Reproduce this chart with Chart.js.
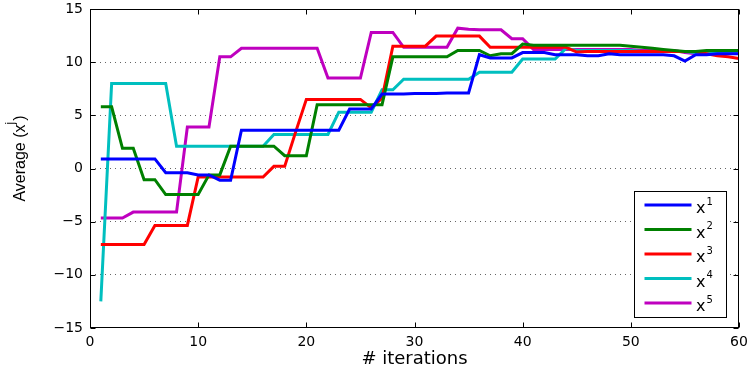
<!DOCTYPE html>
<html>
<head>
<meta charset="utf-8">
<script src="https://cdn.jsdelivr.net/npm/chart.js@4.4.1/dist/chart.umd.min.js"></script>
<style>
    body { margin: 0; background: #fff; }
    canvas { display: block; }
</style>
</head>
<body>
<canvas id="average_chart" width="749" height="373"></canvas>
<script>
// iterations 1..60
let iterations = [1, 2, 3, 4, 5, 6, 7, 8, 9, 10, 11, 12, 13, 14, 15, 16, 17, 18, 19, 20,
    21, 22, 23, 24, 25, 26, 27, 28, 29, 30, 31, 32, 33, 34, 35, 36, 37, 38, 39, 40,
    41, 42, 43, 44, 45, 46, 47, 48, 49, 50, 51, 52, 53, 54, 55, 56, 57, 58, 59, 60];

let averageX1 = [0.9, 0.9, 0.9, 0.9, 0.9, 0.9, -0.4, -0.4, -0.4, -0.6, -0.6, -1.1, -1.1, 3.6, 3.6, 3.6, 3.6, 3.6, 3.6, 3.6,
    3.6, 3.6, 3.6, 5.6, 5.6, 5.6, 7.0, 7.0, 7.0, 7.05, 7.05, 7.05, 7.1, 7.1, 7.1, 10.7, 10.4, 10.4, 10.4, 10.9,
    10.9, 10.9, 10.7, 10.7, 10.7, 10.6, 10.6, 10.8, 10.7, 10.7, 10.7, 10.7, 10.7, 10.6, 10.1, 10.7, 10.7, 10.8, 10.8, 10.8];

let averageX2 = [5.8, 5.8, 1.9, 1.9, -1.05, -1.05, -2.45, -2.45, -2.45, -2.45, -0.6, -0.6, 2.1, 2.1, 2.1, 2.1, 2.1, 1.2, 1.2, 1.2,
    6.0, 6.0, 6.0, 6.0, 6.0, 6.0, 6.0, 10.5, 10.5, 10.5, 10.5, 10.5, 10.5, 11.1, 11.1, 11.1, 10.6, 10.8, 10.8, 11.7,
    11.6, 11.6, 11.6, 11.6, 11.6, 11.6, 11.6, 11.6, 11.6, 11.5, 11.4, 11.3, 11.2, 11.1, 11.0, 11.0, 11.1, 11.1, 11.1, 11.1];

let averageX3 = [-7.15, -7.15, -7.15, -7.15, -7.15, -5.35, -5.35, -5.35, -5.35, -0.8, -0.8, -0.8, -0.8, -0.8, -0.8, -0.8, 0.2, 0.2, 3.4, 6.5,
    6.5, 6.5, 6.5, 6.5, 6.5, 5.7, 6.6, 11.5, 11.5, 11.5, 11.5, 12.45, 12.45, 12.45, 12.45, 12.45, 11.4, 11.4, 11.4, 11.4,
    11.4, 11.4, 11.4, 11.4, 10.95, 11.0, 11.0, 11.0, 11.0, 11.0, 11.0, 11.0, 11.0, 11.0, 11.0, 11.0, 10.8, 10.6, 10.5, 10.35];

let averageX4 = [-12.5, 8.0, 8.0, 8.0, 8.0, 8.0, 8.0, 2.1, 2.1, 2.1, 2.1, 2.1, 2.1, 2.1, 2.1, 2.1, 3.2, 3.2, 3.2, 3.2,
    3.2, 3.2, 5.3, 5.3, 5.3, 5.3, 7.4, 7.4, 8.4, 8.4, 8.4, 8.4, 8.4, 8.4, 8.4, 9.05, 9.05, 9.05, 9.05, 10.3,
    10.3, 10.3, 10.3, 11.3, 11.1, 11.1, 11.1, 11.1, 11.1, 11.1, 11.0, 11.0, 11.0, 11.0, 11.0, 10.9, 11.0, 11.0, 11.0, 11.0];

let averageX5 = [-4.65, -4.65, -4.65, -4.1, -4.1, -4.1, -4.1, -4.1, 3.9, 3.9, 3.9, 10.5, 10.5, 11.3, 11.3, 11.3, 11.3, 11.3, 11.3, 11.3,
    11.3, 8.5, 8.5, 8.5, 8.5, 12.8, 12.8, 12.8, 11.4, 11.4, 11.4, 11.4, 11.4, 13.2, 13.1, 13.05, 13.05, 13.05, 12.2, 12.2,
    11.2, 11.2, 11.2, 11.2, 11.2, 11.2, 11.2, 11.2, 11.2, 11.2, 11.1, 11.1, 11.1, 11.1, 10.9, 10.8, 10.9, 10.9, 10.9, 10.9];

let seriesValues = [averageX1, averageX2, averageX3, averageX4, averageX5];
let seriesSuperscripts = ["1", "2", "3", "4", "5"];
let seriesColors = ["#0000ff", "#008000", "#ff0000", "#00bfbf", "#bf00bf"];

let xTickValues = [0, 10, 20, 30, 40, 50, 60];
let yTickValues = [-15, -10, -5, 0, 5, 10, 15];

let tickFont = {family: "DejaVu Sans", size: 14, lineHeight: 1};

buildChart();

function buildChart(){
    let datasets = [];
    for(let i = 0; i < seriesValues.length; i++){
        datasets.push({
            label: "x" + seriesSuperscripts[i],
            data: toPoints(seriesValues[i]),
            borderColor: seriesColors[i],
            backgroundColor: seriesColors[i],
            borderWidth: 3,
            pointRadius: 0,
            tension: 0,
            fill: false
        });
    }

    new Chart(document.getElementById("average_chart"), {
        type: "line",
        data: {datasets: datasets},
        options: {
            responsive: false,
            animation: false,
            layout: {padding: {left: 0, top: 9, right: 10, bottom: 0}},
            plugins: {
                legend: {display: false},
                tooltip: {enabled: false}
            },
            scales: {
                x: {
                    type: "linear",
                    min: 0,
                    max: 60,
                    afterBuildTicks: (scale) => { scale.ticks = xTickValues.map(v => ({value: v})); },
                    afterFit: (scale) => {
                        scale.height = 45;
                        scale.paddingLeft = 0;
                        scale.paddingRight = 0;
                    },
                    grid: {display: false, drawTicks: false},
                    border: {display: false},
                    ticks: {color: "#000", font: tickFont, padding: 7, maxRotation: 0},
                    title: {
                        display: true,
                        text: "# iterations",
                        color: "#000",
                        font: {family: "DejaVu Sans", size: 18},
                        padding: {top: 0, bottom: 3}
                    }
                },
                y: {
                    min: -15,
                    max: 15,
                    afterBuildTicks: (scale) => { scale.ticks = yTickValues.map(v => ({value: v})); },
                    afterFit: (scale) => {
                        scale.width = 90;
                        scale.paddingTop = 0;
                        scale.paddingBottom = 0;
                    },
                    grid: {
                        drawTicks: false,
                        lineWidth: 1,
                        color: (ctx) => (ctx.tick && Math.abs(ctx.tick.value) === 15) ? "rgba(0,0,0,0)" : "#666"
                    },
                    border: {display: false, dash: [1, 4]},
                    ticks: {
                        color: "#000",
                        font: tickFont,
                        padding: 7,
                        callback: (value) => String(value).replace("-", "\u2212")
                    }
                }
            }
        },
        plugins: [matlabAxesPlugin()]
    });
}

function toPoints(values){
    let points = [];
    for(let i = 0; i < values.length; i++){
        points.push({x: iterations[i], y: values[i]});
    }
    return points;
}

function matlabAxesPlugin(){
    return {
        id: "matlabAxes",
        afterDatasetsDraw(chart){
            let ctx = chart.ctx;
            let area = chart.chartArea;
            let xScale = chart.scales.x;
            let yScale = chart.scales.y;
            let left = Math.round(area.left) + 0.5;
            let right = Math.round(area.right) - 0.5;
            let top = Math.round(area.top) + 0.5;
            let bottom = Math.round(area.bottom) - 0.5;

            ctx.save();
            ctx.strokeStyle = "#000";
            ctx.lineWidth = 1;
            ctx.setLineDash([]);

            // inward tick marks, matlab style
            ctx.beginPath();
            for(let v of xTickValues){
                let px = Math.round(xScale.getPixelForValue(v)) + 0.5;
                ctx.moveTo(px, bottom); ctx.lineTo(px, bottom - 5);
                ctx.moveTo(px, top); ctx.lineTo(px, top + 5);
            }
            for(let v of yTickValues){
                let py = Math.round(yScale.getPixelForValue(v)) + 0.5;
                ctx.moveTo(left, py); ctx.lineTo(left + 5, py);
                ctx.moveTo(right, py); ctx.lineTo(right - 5, py);
            }
            ctx.stroke();
            ctx.strokeRect(left, top, right - left, bottom - top);

            // legend box
            let boxLeft = Math.round(area.right) - 104.5;
            let boxTop = Math.round(area.bottom) - 136.5;
            let boxW = 92;
            let boxH = 126;
            ctx.fillStyle = "#fff";
            ctx.fillRect(boxLeft, boxTop, boxW, boxH);
            ctx.strokeRect(boxLeft, boxTop, boxW, boxH);

            let datasets = chart.data.datasets;
            for(let i = 0; i < datasets.length; i++){
                let rowY = boxTop + 13.5 + i * 24.5;
                ctx.strokeStyle = datasets[i].borderColor;
                ctx.lineWidth = 3;
                ctx.beginPath();
                ctx.moveTo(boxLeft + 10, rowY);
                ctx.lineTo(boxLeft + 57, rowY);
                ctx.stroke();

                ctx.fillStyle = "#000";
                ctx.textBaseline = "alphabetic";
                ctx.textAlign = "left";
                ctx.font = "16px 'DejaVu Sans'";
                let textX = boxLeft + 61.5;
                ctx.fillText("x", textX, rowY + 8);
                let xw = ctx.measureText("x").width;
                ctx.font = "10px 'DejaVu Sans'";
                ctx.fillText(seriesSuperscripts[i], textX + xw + 1, rowY - 0.5);
            }

            // y axis title with superscript j
            let mainText = "Average (x";
            ctx.font = "16px 'Liberation Sans', Arial, sans-serif";
            let w1 = ctx.measureText(mainText).width;
            let w3 = ctx.measureText(")").width;
            ctx.font = "12px 'Liberation Sans', Arial, sans-serif";
            let w2 = ctx.measureText("j").width;
            let total = w1 + w2 + w3;
            ctx.translate(25, 159);
            ctx.rotate(-Math.PI / 2);
            ctx.fillStyle = "#000";
            ctx.textAlign = "left";
            ctx.textBaseline = "alphabetic";
            ctx.font = "16px 'Liberation Sans', Arial, sans-serif";
            ctx.fillText(mainText, -total / 2, 0);
            ctx.font = "12px 'Liberation Sans', Arial, sans-serif";
            ctx.fillText("j", -total / 2 + w1, -11);
            ctx.font = "16px 'Liberation Sans', Arial, sans-serif";
            ctx.fillText(")", -total / 2 + w1 + w2 + 1, 0);
            ctx.restore();
        }
    };
}
</script>
</body>
</html>
